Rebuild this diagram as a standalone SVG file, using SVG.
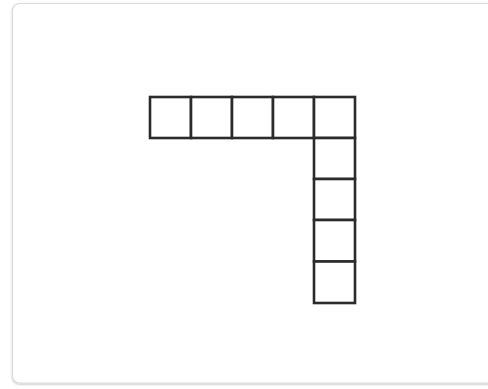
<svg xmlns="http://www.w3.org/2000/svg" width="488" height="389" viewBox="0 0 488 389">
  <defs>
    <filter id="sh" x="-5%" y="-5%" width="110%" height="110%">
      <feGaussianBlur in="SourceAlpha" stdDeviation="1"/>
      <feOffset dx="0" dy="1"/>
      <feComponentTransfer><feFuncA type="linear" slope="0.25"/></feComponentTransfer>
      <feMerge><feMergeNode/><feMergeNode in="SourceGraphic"/></feMerge>
    </filter>
  </defs>
  <style>
    .cell { fill: #ffffff; stroke: #2b2b2b; stroke-width: 2.6; }
    .card { fill: #ffffff; stroke: #dcdcdc; stroke-width: 1.2; }
  </style>
  <rect width="488" height="389" fill="#ffffff"/>
  <rect class="card" x="12.5" y="3.5" width="490" height="379.5" rx="7" filter="url(#sh)"/>
  <g id="row">
    <rect class="cell" x="150" y="97" width="41" height="41"/>
    <rect class="cell" x="191" y="97" width="41" height="41"/>
    <rect class="cell" x="232" y="97" width="41" height="41"/>
    <rect class="cell" x="273" y="97" width="41" height="41"/>
    <rect class="cell" x="314" y="97" width="41" height="41"/>
  </g>
  <g id="column">
    <rect class="cell" x="314" y="138" width="41" height="41"/>
    <rect class="cell" x="314" y="179" width="41" height="41"/>
    <rect class="cell" x="314" y="220" width="41" height="41.5"/>
    <rect class="cell" x="314" y="261.5" width="41" height="41.5"/>
  </g>
</svg>
